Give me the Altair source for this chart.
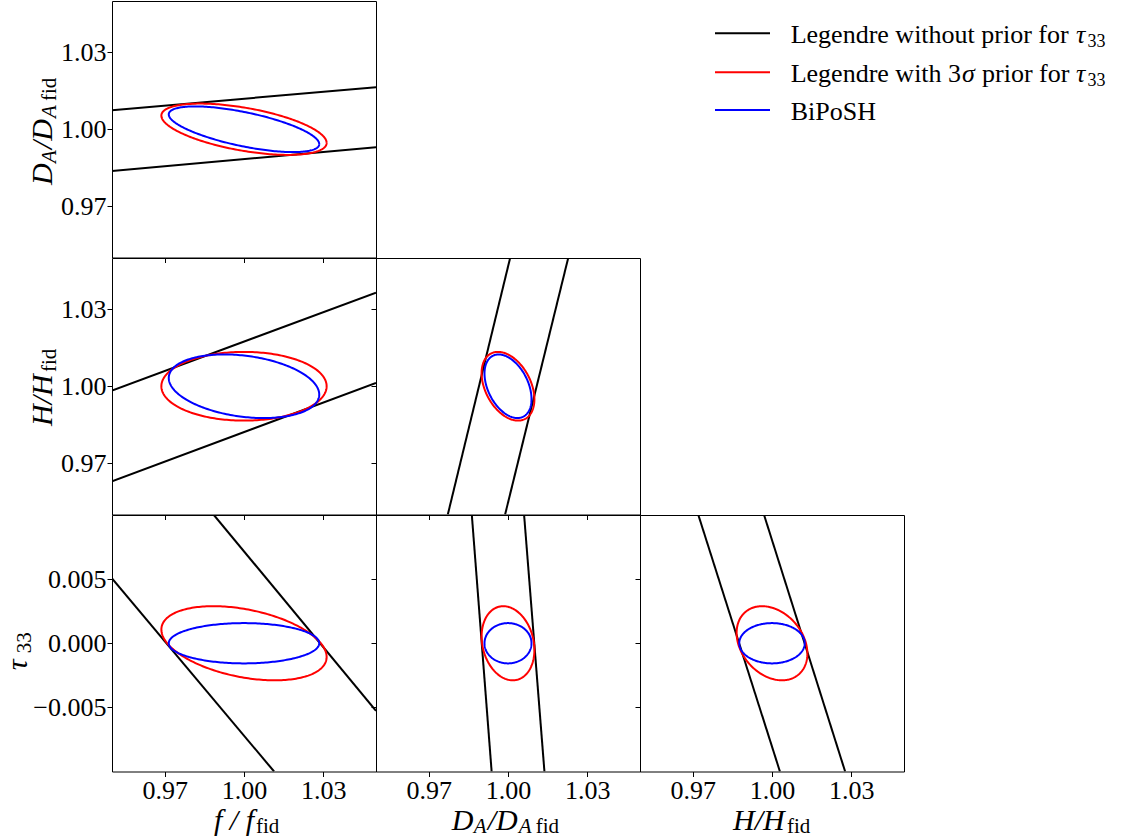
import numpy as np
import pandas as pd
import altair as alt

# ---------------- values ----------------
PARAMS = ["f", "DA", "H", "tau"]
FIDUCIAL = [1.0, 1.0, 1.0, 0.0]
AXIS_LIMITS = [[0.95, 1.05], [0.95, 1.05], [0.95, 1.05], [-0.01, 0.01]]
TICKS = [[0.97, 1.00, 1.03], [0.97, 1.00, 1.03], [0.97, 1.00, 1.03], [-0.005, 0.0, 0.005]]
TICK_FORMATS = [".2f", ".2f", ".2f", ".3f"]

# half-extent of each contour along every parameter
RED_EXTENT = [0.0313, 0.0100, 0.0134, 0.00289]
BLUE_EXTENT = [0.0285, 0.0089, 0.0124, 0.00157]

# panels: (x parameter, y parameter)
PAIRS = [(0, 1), (0, 2), (1, 2), (0, 3), (1, 3), (2, 3)]
RED_RHO = [-0.53, 0.00, -0.38, -0.37, -0.18, -0.28]
BLUE_RHO = [-0.65, -0.26, -0.40, 0.00, 0.00, 0.00]

# black band (Legendre without prior): two edge lines per panel, (x1, y1, x2, y2)
BAND_A = [
    (0.95, 1.0074, 1.05, 1.0164),
    (0.95, 0.9983, 1.05, 1.0365),
    (0.9772, 0.95, 1.0008, 1.05),
    (0.95, 0.00506, 1.0114, -0.01),
    (0.9863, 0.01, 0.9938, -0.01),
    (0.9721, 0.01, 1.0030, -0.01),
]
BAND_B = [
    (0.95, 0.9837, 1.05, 0.9930),
    (0.95, 0.9629, 1.05, 1.0013),
    (0.9989, 0.95, 1.0228, 1.05),
    (0.9886, 0.01, 1.05, -0.00527),
    (1.0061, 0.01, 1.0138, -0.01),
    (0.9970, 0.01, 1.0277, -0.01),
]

LEGEND_LABELS = ["Legendre without prior for", "Legendre with 3", "BiPoSH"]
SERIES_COLORS = ["#000000", "#ff0000", "#0000ff"]

# ---------------- layout ----------------
W, H = 264, 256.5
FONT = "Liberation Serif"
ONE = pd.DataFrame({"k": [0]})


def seg(text, x, y, size, italic=False, angle=0, color="black"):
    return alt.Chart(ONE).mark_text(
        text=text, font=FONT, fontSize=size,
        fontStyle="italic" if italic else "normal",
        align="left", baseline="alphabetic", angle=angle, color=color,
    ).encode(x=alt.value(x), y=alt.value(y))


# title pieces: (text, offset along reading direction, italic, size, subscript shift)
X_TITLES = {
    0: (102, [("f / f", 0, True, 30, 0), ("fid", 42, False, 21, 3)]),
    1: (75.7, [("D", 0, True, 30, 0), ("A", 22, True, 21, 3), ("/D", 36, True, 30, 0),
               ("A", 67, True, 21, 3), ("fid", 84, False, 21, 3)]),
    2: (93, [("H/H", 0, True, 30, 0), ("fid", 54, False, 21, 3)]),
}
Y_TITLES = {
    0: (184, -60, [("D", 0, True, 30, 0), ("A", 22, True, 21, 4), ("/D", 36, True, 30, 0),
                   ("A", 67, True, 21, 4), ("fid", 84, False, 21, 4)]),
    1: (168, -60, [("H/H", 0, True, 30, 0), ("fid", 54, False, 21, 4)]),
    2: (155.3, -85, [("\u03c4", 0, True, 30, 0), ("33", 17, False, 21, 4)]),
}
X_TITLE_BASELINE = 315


def ellipse(cx, cy, ax, ay, rho, n=241):
    t = np.linspace(0.0, 2.0 * np.pi, n)
    x = cx + ax * np.cos(t)
    y = cy + ay * (rho * np.cos(t) + np.sqrt(1.0 - rho ** 2) * np.sin(t))
    return pd.DataFrame({"x": x, "y": y, "order": np.arange(n), "seg": 0})


def panel(k, row, col):
    xi, yi = PAIRS[k]
    xs = alt.Scale(domain=AXIS_LIMITS[xi], nice=False, zero=False)
    ys = alt.Scale(domain=AXIS_LIMITS[yi], nice=False, zero=False)
    xa = alt.Axis(values=TICKS[xi], format=TICK_FORMATS[xi], labels=(row == 2), title=None)
    ya = alt.Axis(values=TICKS[yi], format=TICK_FORMATS[yi], labels=(col == 0), title=None)

    band_rows = []
    for j, (x1, y1, x2, y2) in enumerate([BAND_A[k], BAND_B[k]]):
        band_rows.append({"x": x1, "y": y1, "order": 0, "seg": j})
        band_rows.append({"x": x2, "y": y2, "order": 1, "seg": j})
    band = pd.DataFrame(band_rows)
    red = ellipse(FIDUCIAL[xi], FIDUCIAL[yi], RED_EXTENT[xi], RED_EXTENT[yi], RED_RHO[k])
    blue = ellipse(FIDUCIAL[xi], FIDUCIAL[yi], BLUE_EXTENT[xi], BLUE_EXTENT[yi], BLUE_RHO[k])

    layers = []
    for df, color in [(band, SERIES_COLORS[0]), (red, SERIES_COLORS[1]), (blue, SERIES_COLORS[2])]:
        layers.append(
            alt.Chart(df).mark_line(color=color, strokeWidth=2, clip=True).encode(
                x=alt.X("x:Q", scale=xs, axis=xa),
                y=alt.Y("y:Q", scale=ys, axis=ya),
                detail="seg:N",
                order="order:Q",
            )
        )
    if row == 2:
        start, glyphs = X_TITLES[col]
        for text, off, it, size, shift in glyphs:
            layers.append(seg(text, start + off, X_TITLE_BASELINE + shift, size, it))
    if col == 0:
        start, base, glyphs = Y_TITLES[row]
        for text, off, it, size, shift in glyphs:
            layers.append(seg(text, base + shift, start - off, size, it, angle=270))
    return alt.layer(*layers).properties(
        width=W, height=H, view=alt.ViewBackground(stroke="black", strokeWidth=1)
    )


def blank():
    return alt.Chart(ONE).mark_text(text="").properties(
        width=W, height=H, view=alt.ViewBackground(stroke="transparent")
    )


def legend():
    ys = [32.3, 71.3, 109.0]
    base = [42.3, 80.7, 119.0]
    layers = []
    for i in range(3):
        layers.append(
            alt.Chart(ONE).mark_rule(color=SERIES_COLORS[i], strokeWidth=2).encode(
                x=alt.value(75), x2=alt.value(130), y=alt.value(ys[i])
            )
        )
        layers.append(seg(LEGEND_LABELS[i], 150.7, base[i], 26))
    # math parts of the first two labels
    layers.append(seg("\u03c4", 436.0, base[0], 26, True))
    layers.append(seg("33", 447.5, base[0] + 4, 18))
    layers.append(seg("\u03c3", 322.0, base[1], 26, True))
    layers.append(seg("prior for", 342.0, base[1], 26))
    layers.append(seg("\u03c4", 436.0, base[1], 26, True))
    layers.append(seg("33", 447.5, base[1] + 4, 18))
    return alt.layer(*layers).properties(
        width=W, height=H, view=alt.ViewBackground(stroke="transparent")
    )


cells = [
    panel(0, 0, 0), blank(), legend(),
    panel(1, 1, 0), panel(2, 1, 1), blank(),
    panel(3, 2, 0), panel(4, 2, 1), panel(5, 2, 2),
]

chart = alt.concat(*cells, columns=3, spacing=0, bounds="flush").properties(
    padding={"left": 2, "top": 0, "right": 0, "bottom": 0}
).configure_axis(
    labelFont=FONT, labelFontSize=26, labelColor="black",
    tickColor="black", tickSize=5, tickWidth=1,
    domain=False, grid=False, labelPadding=1,
    labelFlush=False, labelOverlap=False,
).configure_view(strokeWidth=1)

chart.save("out.html", embed_options={"renderer": "svg", "actions": False})
